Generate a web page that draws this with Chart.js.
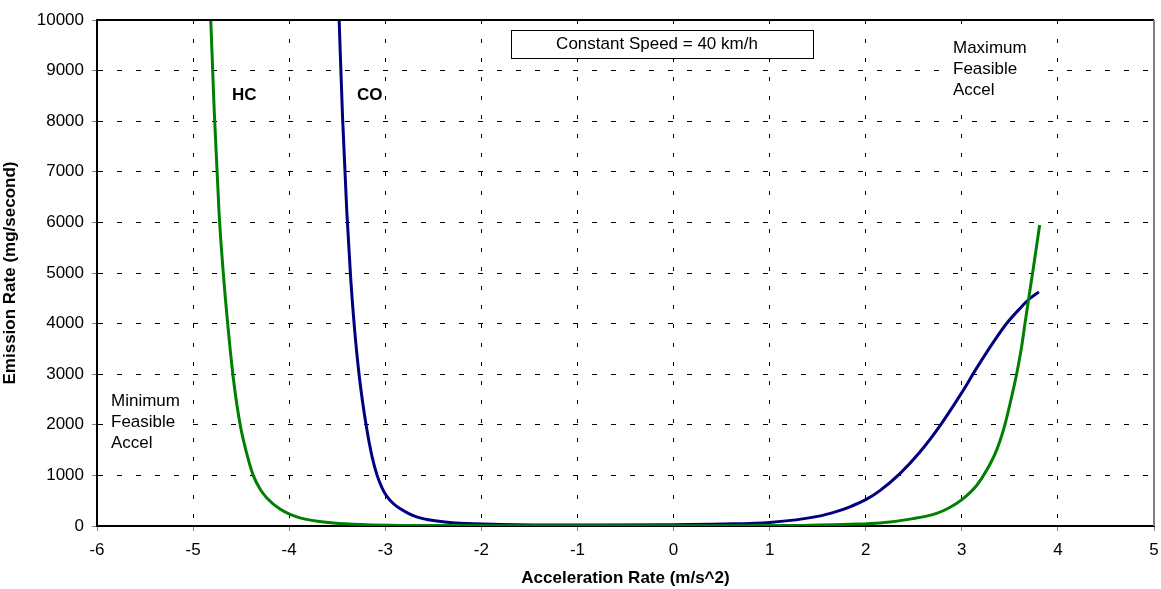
<!DOCTYPE html>
<html>
<head>
<meta charset="utf-8">
<script src="https://cdn.jsdelivr.net/npm/chart.js@4"></script>
<style>
  html, body { margin: 0; padding: 0; background: #fff; }
  #wrap { width: 1161px; height: 589px; }
</style>
</head>
<body>
<div id="wrap"><canvas id="emissionChart" width="1161" height="589"></canvas></div>
<script>
// acceleration rate (m/s^2) and emission rate (mg/s)
const hcAccel = [-4.816, -4.78, -4.73, -4.69, -4.64, -4.58, -4.51, -4.44, -4.374, -4.30, -4.235, -4.096, -3.888, -3.54, -3.19, -2.5, -1.5, -0.5, 0.5, 1.2, 1.836, 2.148, 2.494, 2.738, 2.87, 2.998, 3.154, 3.258, 3.362, 3.448, 3.518, 3.57, 3.622, 3.657, 3.701, 3.743, 3.81];
const hcRate  = [10000, 8200, 6200, 5100, 4000, 2900, 2000, 1420, 1000, 720, 560, 335, 160, 60, 27, 10, 5, 3, 4, 8, 34, 60, 146, 250, 360, 515, 800, 1100, 1500, 2000, 2550, 3000, 3540, 4000, 4560, 5080, 5950];

const coAccel = [-3.48, -3.445, -3.40, -3.36, -3.32, -3.27, -3.20, -3.14, -3.085, -3.03, -2.985, -2.92, -2.847, -2.76, -2.673, -2.5, -2.22, -1.8, -1.0, 0, 0.5, 1.0, 1.5, 1.7, 1.836, 2.0, 2.148, 2.356, 2.564, 2.772, 2.998, 3.154, 3.327, 3.466, 3.605, 3.709, 3.802];
const coRate  = [10000, 8100, 6200, 4900, 3900, 2950, 2000, 1390, 1000, 740, 590, 450, 345, 250, 180, 107, 53, 30, 20, 25, 38, 70, 190, 290, 380, 520, 700, 1036, 1463, 1980, 2630, 3120, 3630, 4002, 4299, 4497, 4627];

const xTicks = [-6, -5, -4, -3, -2, -1, 0, 1, 2, 3, 4, 5];
const yTicks = [0, 1000, 2000, 3000, 4000, 5000, 6000, 7000, 8000, 9000, 10000];

const FONT = "'Liberation Sans', Arial, sans-serif";

function toPoints(xs, ys) {
  return xs.map((x, i) => ({ x: x, y: ys[i] }));
}

function textBlock(ctx, lines, x, y, box) {
  ctx.fillStyle = "#fff";
  ctx.fillRect(box[0], box[1], box[2], box[3]);
  ctx.fillStyle = "#000";
  lines.forEach((t, i) => ctx.fillText(t, x, y + i * 21));
}

// texts placed on the plot: curve names, speed box, feasibility notes
const notesPlugin = {
  id: "notes",
  afterDraw(chart) {
    const ctx = chart.ctx;
    const a = chart.chartArea;
    ctx.save();

    // top and right frame of the plot
    ctx.lineWidth = 2;
    ctx.strokeStyle = "#000";
    ctx.beginPath();
    ctx.moveTo(a.left, a.top);
    ctx.lineTo(a.right, a.top);
    ctx.stroke();
    ctx.strokeStyle = "#808080";
    ctx.beginPath();
    ctx.moveTo(a.right, a.top);
    ctx.lineTo(a.right, a.bottom);
    ctx.stroke();

    ctx.fillStyle = "#000";
    ctx.textBaseline = "middle";
    ctx.textAlign = "left";
    ctx.font = "bold 17px " + FONT;
    ctx.fillText("HC", 232, 95);
    ctx.fillText("CO", 357, 95);

    // speed box
    ctx.fillStyle = "#fff";
    ctx.fillRect(511, 30, 303, 29);
    ctx.lineWidth = 1;
    ctx.strokeStyle = "#000";
    ctx.strokeRect(511.5, 30.5, 302, 28);
    ctx.fillStyle = "#000";
    ctx.font = "17px " + FONT;
    ctx.textAlign = "center";
    ctx.fillText("Constant Speed = 40 km/h", 657, 44);

    ctx.textAlign = "left";
    textBlock(ctx, ["Maximum", "Feasible", "Accel"], 953, 48, [948, 37, 88, 66]);
    textBlock(ctx, ["Minimum", "Feasible", "Accel"], 111, 401, [106, 390, 82, 66]);
    ctx.restore();
  }
};

document.addEventListener("DOMContentLoaded", () => {
  const ctx = document.getElementById("emissionChart").getContext("2d");
  new Chart(ctx, {
    type: "scatter",
    data: {
      datasets: [
        {
          label: "HC",
          data: toPoints(hcAccel, hcRate),
          showLine: true,
          borderColor: "#008000",
          borderWidth: 3,
          pointRadius: 0,
          cubicInterpolationMode: "monotone",
        },
        {
          label: "CO",
          data: toPoints(coAccel, coRate),
          showLine: true,
          borderColor: "#000080",
          borderWidth: 3,
          pointRadius: 0,
          cubicInterpolationMode: "monotone",
        },
      ],
    },
    options: {
      responsive: false,
      animation: false,
      layout: { padding: { top: 20, right: 7, left: 0, bottom: 0 } },
      plugins: {
        legend: { display: false },
        tooltip: { enabled: false },
      },
      scales: {
        x: {
          type: "linear",
          min: -6,
          max: 5,
          afterBuildTicks: (scale) => { scale.ticks = xTicks.map((v) => ({ value: v })); },
          afterFit: (scale) => {
            scale.height = 63;
            scale.paddingLeft = 0;
            scale.paddingRight = 0;
          },
          ticks: { color: "#000", font: { family: FONT, size: 17 }, padding: 9, callback: (v) => String(v) },
          grid: { color: "#000", lineWidth: 1, tickLength: 5, tickColor: "#808080", tickWidth: 1 },
          border: { color: "#000", width: 2, dash: [4, 15] },
          title: {
            display: true,
            text: "Acceleration Rate (m/s^2)",
            color: "#000",
            font: { family: FONT, size: 17, weight: "bold" },
            padding: { top: 2, bottom: 0 },
          },
        },
        y: {
          type: "linear",
          min: 0,
          max: 10000,
          afterBuildTicks: (scale) => { scale.ticks = yTicks.map((v) => ({ value: v })); },
          afterFit: (scale) => {
            scale.width = 97;
            scale.paddingTop = 0;
            scale.paddingBottom = 0;
          },
          ticks: { color: "#000", font: { family: FONT, size: 17 }, padding: 8, callback: (v) => String(v) },
          grid: { color: "#000", lineWidth: 1, tickLength: 5, tickColor: "#808080", tickWidth: 1 },
          border: { color: "#000", width: 2, dash: [5, 14] },
          title: {
            display: true,
            text: "Emission Rate (mg/second)",
            color: "#000",
            font: { family: FONT, size: 17, weight: "bold" },
            padding: { top: 0, bottom: 4 },
          },
        },
      },
    },
    plugins: [notesPlugin],
  });
});
</script>
</body>
</html>
